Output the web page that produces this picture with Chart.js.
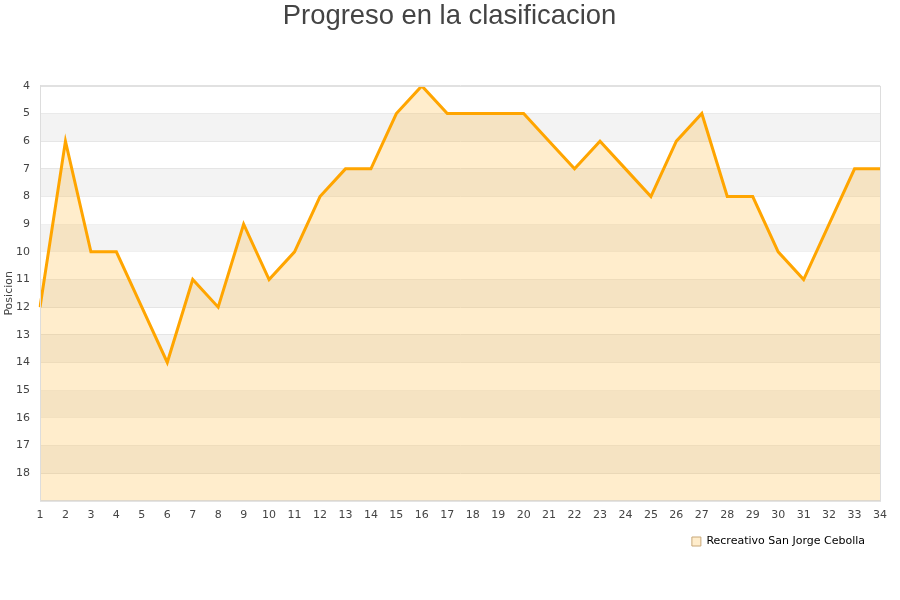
<!DOCTYPE html>
<html>
<head>
<meta charset="utf-8">
<script src="https://cdn.jsdelivr.net/npm/chart.js@4"></script>
<style>
html,body{margin:0;padding:0;background:#fff;}
#wrap{width:900px;height:600px;position:relative;}
</style>
</head>
<body>
<div id="wrap"><canvas id="c" width="900" height="600"></canvas></div>
<script>
const jornadas = ["1","2","3","4","5","6","7","8","9","10","11","12","13","14","15","16","17","18","19","20","21","22","23","24","25","26","27","28","29","30","31","32","33","34"];
const posiciones = [12,6,10,10,12,14,11,12,9,11,10,8,7,7,5,4,5,5,5,5,6,7,6,7,8,6,5,8,8,10,11,9,7,7];
const equipo = "Recreativo San Jorge Cebolla";
const titulo = "Progreso en la clasificacion";
const ejeY = "Posicion";
const yMin = 4, yMax = 19;

const bandPlugin = {
  id: 'bands',
  beforeDatasetsDraw(chart) {
    const {ctx, chartArea, scales} = chart;
    const y = scales.y;
    ctx.save();
    ctx.fillStyle = '#f3f3f3';
    for (let v = 5; v < yMax; v += 2) {
      const p1 = y.getPixelForValue(v), p2 = y.getPixelForValue(v + 1);
      ctx.fillRect(chartArea.left, Math.min(p1, p2), chartArea.right - chartArea.left, Math.abs(p2 - p1));
    }
    ctx.restore();
  },
  afterDatasetsDraw(chart) {
    const {ctx, chartArea} = chart;
    ctx.save();
    ctx.strokeStyle = '#dddddd';
    ctx.lineWidth = 1;
    ctx.strokeRect(chartArea.left + 0.5, chartArea.top + 0.5, chartArea.right - chartArea.left, chartArea.bottom - chartArea.top);
    ctx.restore();
  }
};

new Chart(document.getElementById('c'), {
  type: 'line',
  data: {
    labels: jornadas,
    datasets: [{
      label: equipo,
      data: posiciones,
      borderColor: '#ffa500',
      borderWidth: 3,
      backgroundColor: 'rgba(255,165,0,0.2)',
      fill: {value: yMax},
      pointRadius: 0,
      tension: 0
    }]
  },
  options: {
    responsive: false,
    animation: false,
    layout: {padding: {top: 0, right: 4, bottom: 43, left: 3}},
    plugins: {
      title: {
        display: true,
        text: titulo,
        color: '#444444',
        font: {family: 'Liberation Sans', size: 27.4, weight: 'normal'},
        padding: {top: 0, bottom: 53}
      },
      legend: {
        position: 'bottom',
        align: 'end',
        fullSize: false,
        labels: {
          color: '#000000',
          font: {family: 'DejaVu Sans', size: 11},
          boxWidth: 9,
          boxHeight: 9,
          padding: 15,
          generateLabels(chart) {
            return [{text: equipo, fillStyle: 'rgba(255,165,0,0.2)', strokeStyle: '#c8a878', lineWidth: 1, datasetIndex: 0}];
          }
        }
      },
      tooltip: {enabled: false}
    },
    scales: {
      x: {
        offset: false,
        grid: {display: false, drawTicks: false},
        border: {color: '#dddddd'},
        ticks: {color: '#444444', font: {family: 'DejaVu Sans', size: 11}, padding: 8, maxRotation: 0, autoSkip: false},
        afterFit(s) { s.height -= 9; }
      },
      y: {
        reverse: true,
        min: yMin,
        max: yMax,
        grid: {color: '#e2e2e2', drawTicks: false},
        border: {color: '#dddddd'},
        title: {display: true, text: ejeY, color: '#444444', font: {family: 'DejaVu Sans', size: 11}, padding: 0},
        ticks: {
          stepSize: 1,
          color: '#444444',
          font: {family: 'DejaVu Sans', size: 11},
          padding: 10,
          callback(v) { return v >= yMax ? '' : v; }
        },
        afterFit(s) { s.width = 37; }
      },
      yRight: {
        position: 'right',
        min: yMin,
        max: yMax,
        grid: {display: false, drawTicks: false},
        border: {display: false},
        ticks: {display: false},
        afterFit(s) { s.width = 16; }
      }
    }
  },
  plugins: [bandPlugin]
});
</script>
</body>
</html>
